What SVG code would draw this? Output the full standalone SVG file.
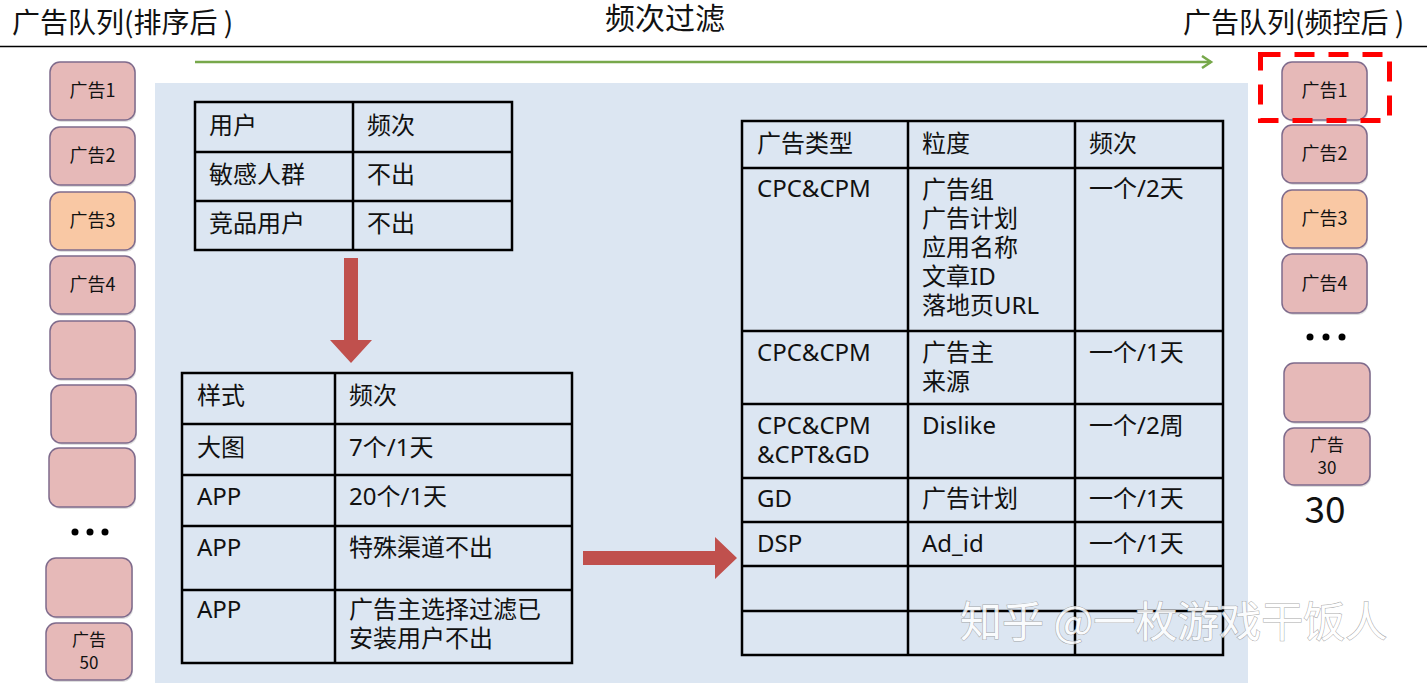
<svg xmlns="http://www.w3.org/2000/svg" width="1427" height="683" viewBox="0 0 1427 683">
<style>
text{font-family:"Noto Sans CJK SC","Noto Sans",sans-serif;fill:#111;}
.title{font-size:28px;}
.cell{font-family:"Noto Sans","Noto Sans CJK SC",sans-serif;font-size:24px;}
.box{fill:#e6b9b8;stroke:#7f6b8c;stroke-width:1.5;}
.box.orange{fill:#f9c8a4;}
.shadow{fill:#7a7a7a;opacity:0.25;}
.bt{font-size:18px;text-anchor:middle;}
.bt2{font-size:17px;text-anchor:middle;}
.grid{stroke:#000;stroke-width:2.5;fill:none;}
.dot{fill:#000;}
.red{fill:#c0504d;}
</style>
<defs>
<marker id="greenHead" markerWidth="14" markerHeight="14" refX="11" refY="7" orient="auto" markerUnits="userSpaceOnUse">
<path d="M2,1 L11,7 L2,13" fill="none" stroke="#77a84b" stroke-width="2.5"/>
</marker>
</defs>
<rect width="1427" height="683" fill="#fff"/>

<!-- headings -->
<text class="title" x="12" y="33">广告队列(排序后 )</text>
<text x="665" y="29" style="font-size:30px" text-anchor="middle">频次过滤</text>
<text class="title" x="1183" y="33">广告队列(频控后 )</text>
<line x1="0" y1="46.5" x2="1427" y2="46.5" stroke="#000" stroke-width="1.5"/>

<!-- panel -->
<rect id="panel" x="155" y="83" width="1093" height="600" fill="#dce6f2"/>

<!-- left queue -->
<g id="left-queue">
<g id="L1"><rect class="shadow" x="51" y="64" width="85" height="58" rx="10"/><rect class="box" x="50" y="62" width="85" height="58" rx="10"/><text class="bt" x="92.5" y="97">广告1</text></g>
<g id="L2"><rect class="shadow" x="51" y="129" width="85" height="58" rx="10"/><rect class="box" x="50" y="127" width="85" height="58" rx="10"/><text class="bt" x="92.5" y="162">广告2</text></g>
<g id="L3"><rect class="shadow" x="51" y="194" width="85" height="58" rx="10"/><rect class="box orange" x="50" y="192" width="85" height="58" rx="10"/><text class="bt" x="92.5" y="227">广告3</text></g>
<g id="L4"><rect class="shadow" x="51" y="258" width="85" height="58" rx="10"/><rect class="box" x="50" y="256" width="85" height="58" rx="10"/><text class="bt" x="92.5" y="291">广告4</text></g>
<g id="L5"><rect class="shadow" x="51" y="323" width="85" height="58" rx="10"/><rect class="box" x="50" y="321" width="85" height="58" rx="10"/></g>
<g id="L6"><rect class="shadow" x="52" y="387" width="85" height="58" rx="10"/><rect class="box" x="51" y="385" width="85" height="58" rx="10"/></g>
<g id="L7"><rect class="shadow" x="50" y="450" width="86" height="59" rx="10"/><rect class="box" x="49" y="448" width="86" height="59" rx="10"/></g>
<g id="L-dots"><circle class="dot" cx="75" cy="532" r="3.5"/><circle class="dot" cx="90" cy="532" r="3.5"/><circle class="dot" cx="105" cy="532" r="3.5"/></g>
<g id="L8"><rect class="shadow" x="47" y="560" width="86" height="59" rx="10"/><rect class="box" x="46" y="558" width="86" height="59" rx="10"/></g>
<g id="L9"><rect class="shadow" x="47" y="625" width="86" height="57" rx="10"/><rect class="box" x="46" y="623" width="86" height="57" rx="10"/><text class="bt2" x="89" y="646">广告<tspan x="89" dy="23">50</tspan></text></g>
</g>

<!-- right queue -->
<g id="right-queue">
<g id="R1"><rect class="shadow" x="1283" y="64" width="85" height="58" rx="10"/><rect class="box" x="1282" y="62" width="85" height="58" rx="10"/><text class="bt" x="1324.5" y="97">广告1</text></g>
<g id="R2"><rect class="shadow" x="1283" y="127" width="85" height="58" rx="10"/><rect class="box" x="1282" y="125" width="85" height="58" rx="10"/><text class="bt" x="1324.5" y="160">广告2</text></g>
<g id="R3"><rect class="shadow" x="1283" y="192" width="85" height="58" rx="10"/><rect class="box orange" x="1282" y="190" width="85" height="58" rx="10"/><text class="bt" x="1324.5" y="225">广告3</text></g>
<g id="R4"><rect class="shadow" x="1283" y="256" width="85" height="59" rx="10"/><rect class="box" x="1282" y="254" width="85" height="59" rx="10"/><text class="bt" x="1324.5" y="290">广告4</text></g>
<g id="R-dots"><circle class="dot" cx="1310" cy="337" r="3.5"/><circle class="dot" cx="1326" cy="337" r="3.5"/><circle class="dot" cx="1342" cy="337" r="3.5"/></g>
<g id="R5"><rect class="shadow" x="1285" y="365" width="86" height="59" rx="10"/><rect class="box" x="1284" y="363" width="86" height="59" rx="10"/></g>
<g id="R6"><rect class="shadow" x="1285" y="430" width="86" height="57" rx="10"/><rect class="box" x="1284" y="428" width="86" height="57" rx="10"/><text class="bt2" x="1327" y="451">广告<tspan x="1327" dy="23">30</tspan></text></g>
<text id="R-count" x="1325" y="523" style="font-size:37px" text-anchor="middle">30</text>
<rect id="highlight" x="1260.5" y="54.5" width="129" height="66" fill="none" stroke="#f00" stroke-width="5" stroke-dasharray="20 14"/>
</g>

<!-- table 1: user -->
<g id="table-user">
<rect class="grid" x="195" y="102" width="317" height="148"/>
<line class="grid" x1="353" y1="102" x2="353" y2="250"/>
<line class="grid" x1="195" y1="152" x2="512" y2="152"/>
<line class="grid" x1="195" y1="201" x2="512" y2="201"/>
<text class="cell" x="209" y="134">用户</text><text class="cell" x="367" y="134">频次</text>
<text class="cell" x="209" y="183">敏感人群</text><text class="cell" x="367" y="183">不出</text>
<text class="cell" x="209" y="232">竞品用户</text><text class="cell" x="367" y="232">不出</text>
</g>

<!-- table 2: style -->
<g id="table-style">
<rect class="grid" x="182" y="373" width="390" height="290"/>
<line class="grid" x1="335" y1="373" x2="335" y2="663"/>
<line class="grid" x1="182" y1="424" x2="572" y2="424"/>
<line class="grid" x1="182" y1="475" x2="572" y2="475"/>
<line class="grid" x1="182" y1="526" x2="572" y2="526"/>
<line class="grid" x1="182" y1="590" x2="572" y2="590"/>
<text class="cell" x="197" y="404">样式</text><text class="cell" x="349" y="404">频次</text>
<text class="cell" x="197" y="456">大图</text><text class="cell" x="349" y="456">7个/1天</text>
<text class="cell" x="197" y="505">APP</text><text class="cell" x="349" y="505">20个/1天</text>
<text class="cell" x="197" y="556">APP</text><text class="cell" x="349" y="556">特殊渠道不出</text>
<text class="cell" x="197" y="618">APP</text>
<text class="cell" x="349" y="618">广告主选择过滤已<tspan x="349" dy="29">安装用户不出</tspan></text>
</g>

<!-- table 3: ad type -->
<g id="table-adtype">
<rect class="grid" x="742" y="121" width="481" height="534"/>
<line class="grid" x1="908" y1="121" x2="908" y2="655"/>
<line class="grid" x1="1075" y1="121" x2="1075" y2="655"/>
<line class="grid" x1="742" y1="168" x2="1223" y2="168"/>
<line class="grid" x1="742" y1="331" x2="1223" y2="331"/>
<line class="grid" x1="742" y1="404" x2="1223" y2="404"/>
<line class="grid" x1="742" y1="478" x2="1223" y2="478"/>
<line class="grid" x1="742" y1="522" x2="1223" y2="522"/>
<line class="grid" x1="742" y1="566" x2="1223" y2="566"/>
<line class="grid" x1="742" y1="611" x2="1223" y2="611"/>
<text class="cell" x="757" y="152">广告类型</text><text class="cell" x="922" y="152">粒度</text><text class="cell" x="1089" y="152">频次</text>
<text class="cell" x="757" y="197">CPC&amp;CPM</text>
<text class="cell" x="922" y="198">广告组<tspan x="922" dy="29">广告计划</tspan><tspan x="922" dy="29">应用名称</tspan><tspan x="922" dy="29">文章ID</tspan><tspan x="922" dy="29">落地页URL</tspan></text>
<text class="cell" x="1089" y="197">一个/2天</text>
<text class="cell" x="757" y="361">CPC&amp;CPM</text>
<text class="cell" x="922" y="361">广告主<tspan x="922" dy="29">来源</tspan></text>
<text class="cell" x="1089" y="361">一个/1天</text>
<text class="cell" x="757" y="434">CPC&amp;CPM<tspan x="757" dy="29">&amp;CPT&amp;GD</tspan></text>
<text class="cell" x="922" y="434">Dislike</text>
<text class="cell" x="1089" y="434">一个/2周</text>
<text class="cell" x="757" y="507">GD</text><text class="cell" x="922" y="507">广告计划</text><text class="cell" x="1089" y="507">一个/1天</text>
<text class="cell" x="757" y="552">DSP</text><text class="cell" x="922" y="552">Ad_id</text><text class="cell" x="1089" y="552">一个/1天</text>
</g>

<!-- connectors -->
<g id="connectors">
<line x1="195" y1="62" x2="1211" y2="62" stroke="#77a84b" stroke-width="2.5" marker-end="url(#greenHead)"/>
<path class="red" d="M344,258 H358 V340 H372 L351,363 L330,340 H344 Z"/>
<path class="red" d="M583,551 H715 V537 L737,558 L715,579 V565 H583 Z"/>
</g>

<!-- watermark -->
<text x="960" y="637" style="font-size:42px;fill:#fff;stroke:#9a9a9a;stroke-width:1;paint-order:stroke;opacity:0.85">知乎 @一枚游戏干饭人</text>
</svg>
